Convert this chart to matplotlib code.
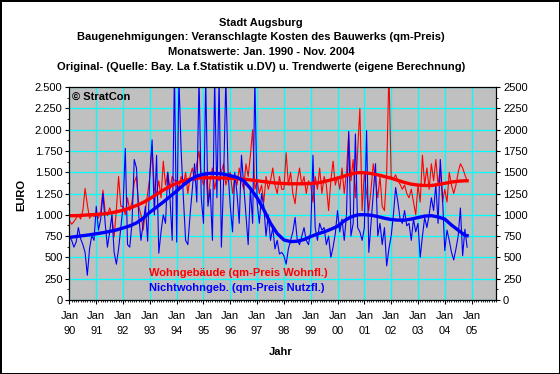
import matplotlib
matplotlib.use('Agg')
import matplotlib.pyplot as plt
from matplotlib.ticker import MultipleLocator, FixedLocator, FuncFormatter

plt.rcParams['font.family'] = ['Liberation Sans', 'DejaVu Sans']
plt.rcParams['font.size'] = 8

# monthly values Jan 1990 - Nov 2004 (EURO per qm)
wohn = [930, 890, 920, 960, 1000, 950, 1050, 1310, 1120, 960, 1000, 980,
        1000, 960, 1040, 1290, 1030, 990, 1080, 1000, 740, 1060, 1450, 1100,
        1100, 1000, 1200, 1050, 1150, 1380, 1450, 1100, 1000, 820, 1050, 1250,
        1450, 1800, 1300, 1250, 1400, 1200, 1630, 1350, 1500, 1300, 1450, 1400,
        1400, 1300, 1450, 1350, 1500, 1250, 1450, 1550, 1400, 1600, 1750, 1450,
        1350, 1500, 1150, 1400, 1550, 1300, 1450, 1400, 1500, 1600, 1350, 1450,
        1500, 1250, 1450, 1350, 1550, 1400, 1300, 1600, 1450, 1700, 2000, 1300,
        1400, 1250, 1350, 1150, 1450, 1300, 1400, 1550, 1350, 1250, 1450, 1300,
        1300, 1730, 1350, 1500, 1250, 1130, 1400, 1550, 1350, 1450, 1250, 1400,
        1350, 1150, 1450, 1300, 1550, 1250, 1450, 1350, 1050, 1400, 1630, 1350,
        1450, 1300, 1550, 1250, 1500, 1950, 1400, 1650, 1200, 1750, 2250, 1050,
        1500, 1250, 1050, 1300, 1600, 1400, 1200, 1450, 1100, 1050, 1500, 2700,
        1450, 1420, 1470, 1400, 1360, 1300, 1350, 1250, 1200, 1300, 1150, 1000,
        1350, 1150, 1700, 1350, 1550, 1300, 1600, 1400, 1650, 1350, 1550, 1150,
        1300, 1150, 1500, 1350, 1250, 1350, 1500, 1600, 1550, 1470, 1400]

nichtwohn = [740, 700, 620, 680, 850, 720, 650, 560, 290, 600, 760, 700,
             1100, 820, 950, 1250, 900, 620, 800, 1000, 560, 420, 600, 850,
             1100, 1780, 650, 620, 900, 1650, 1550, 1000, 700, 900, 1100, 690,
             1500, 1880, 1000, 1700, 550, 800, 1000, 900, 1500, 1200, 700, 2700,
             680, 2600, 1750, 1200, 700, 650, 1000, 1300, 1600, 1150, 2600, 1200,
             900, 2600, 1100, 1300, 700, 2600, 1200, 2600, 620, 1400, 2600, 1500,
             1100, 800, 1500, 1250, 900, 1700, 1350, 1000, 650, 1300, 900, 2600,
             1150, 900, 1250, 1100, 750, 1000, 700, 850, 600, 700, 540, 560,
             520, 420, 600, 700, 800, 970, 700, 650, 750, 850, 700, 650,
             800, 1700, 850, 700, 900, 820, 850, 650, 750, 500, 620, 780,
             1050, 800, 950, 700, 1000, 1980, 750, 900, 1950, 850, 800, 700,
             850, 1990, 560, 900, 1250, 1600, 750, 900, 650, 850, 400, 600,
             750, 1000, 1320, 1150, 950, 900, 1050, 870, 900, 700, 950, 800,
             900, 500, 750, 970, 850, 1000, 1200, 1050, 1360, 900, 1650, 1200,
             580, 820, 700, 560, 470, 600, 750, 1080, 520, 830, 620]

# trend values (quarterly)
trend_month = list(range(0, 178, 3)) + [178]
wohn_trend = [990, 990, 995, 1000, 1005, 1010, 1020, 1035, 1055, 1080, 1110, 1145,
              1190, 1240, 1290, 1335, 1370, 1400, 1420, 1430, 1435, 1435, 1435, 1432,
              1430, 1425, 1420, 1410, 1400, 1390, 1380, 1372, 1368, 1365, 1365, 1365,
              1368, 1375, 1390, 1410, 1430, 1455, 1480, 1495, 1495, 1485, 1470, 1450,
              1430, 1405, 1380, 1360, 1350, 1345, 1345, 1355, 1370, 1385, 1395, 1400, 1400]
nichtwohn_trend = [735, 745, 755, 765, 778, 790, 805, 822, 845, 870, 905, 960,
                   1030, 1090, 1150, 1215, 1280, 1350, 1410, 1455, 1478, 1487, 1487, 1478,
                   1460, 1440, 1400, 1310, 1200, 1060, 900, 780, 705, 685, 690, 710,
                   745, 775, 800, 830, 865, 930, 975, 1000, 1002, 995, 980, 960,
                   945, 938, 938, 950, 968, 985, 990, 975, 950, 880, 820, 760, 755]

year_labels = ['Jan\n%02d' % (y % 100) for y in range(1990, 2006)]

months = list(range(len(wohn)))

fig = plt.figure(figsize=(5.6, 3.74), dpi=100, facecolor='white',
                 edgecolor='black', linewidth=2)
ax = fig.add_axes([0.124, 0.198, 0.762, 0.569])
ax.set_facecolor('#c0c0c0')

ax.plot(months, wohn, color='#ff0000', lw=0.8)
ax.plot(months, nichtwohn, color='#0000ff', lw=0.8)
ax.plot(trend_month, wohn_trend, color='#ff0000', lw=2.4)
ax.plot(trend_month, nichtwohn_trend, color='#0000ff', lw=2.4)

ax.set_xlim(0, 191)
ax.set_ylim(0, 2500)

ax.xaxis.set_major_locator(FixedLocator([12 * i for i in range(16)]))
ax.set_xticklabels(year_labels)
ax.xaxis.set_minor_locator(MultipleLocator(1))
ax.yaxis.set_major_locator(MultipleLocator(250))
ax.yaxis.set_minor_locator(MultipleLocator(125))
ax.yaxis.set_major_formatter(FuncFormatter(lambda v, p: '{:,}'.format(int(v)).replace(',', '.')))
ax.tick_params(which='major', length=3, width=0.8, pad=2)
ax.tick_params(axis='x', which='major', pad=5)
ax.tick_params(which='minor', length=1.5, width=0.6)
for lbl in ax.get_xticklabels():
    lbl.set_linespacing(1.6)
ax.grid(True, which='major', color='#00ffff', lw=0.9)
ax.set_axisbelow(True)

ax2 = ax.twinx()
ax2.set_ylim(0, 2500)
ax2.yaxis.set_major_locator(MultipleLocator(250))
ax2.yaxis.set_minor_locator(MultipleLocator(125))
ax2.tick_params(which='major', length=3, width=0.8, pad=2)
ax2.tick_params(which='minor', length=1.5, width=0.6)

ax.text(0.006, 0.955, '\u00a9 StratCon', transform=ax.transAxes, fontweight='bold',
        va='center', ha='left')
fig.text(0.266, 0.270, 'Wohngeb\u00e4ude (qm-Preis Wohnfl.)', color='#ff0000',
         fontweight='bold', va='center')
fig.text(0.266, 0.230, 'Nichtwohngeb. (qm-Preis Nutzfl.)', color='#0000ff',
         fontweight='bold', va='center')

titles = ['Stadt Augsburg',
          'Baugenehmigungen: Veranschlagte Kosten des Bauwerks (qm-Preis)',
          'Monatswerte: Jan. 1990 - Nov. 2004',
          'Original- (Quelle: Bay. La f.Statistik u.DV) u. Trendwerte (eigene Berechnung)']
for i, t in enumerate(titles):
    fig.text(0.466, 1 - (22.5 + 14.7 * i) / 374, t, ha='center', va='center', fontweight='bold')

fig.text(0.0375, 0.479, 'EURO', rotation=90, ha='center', va='center', fontweight='bold')
fig.text(0.502, 0.059, 'Jahr', ha='center', va='center', fontweight='bold')

fig.savefig('out.png', dpi=100)
